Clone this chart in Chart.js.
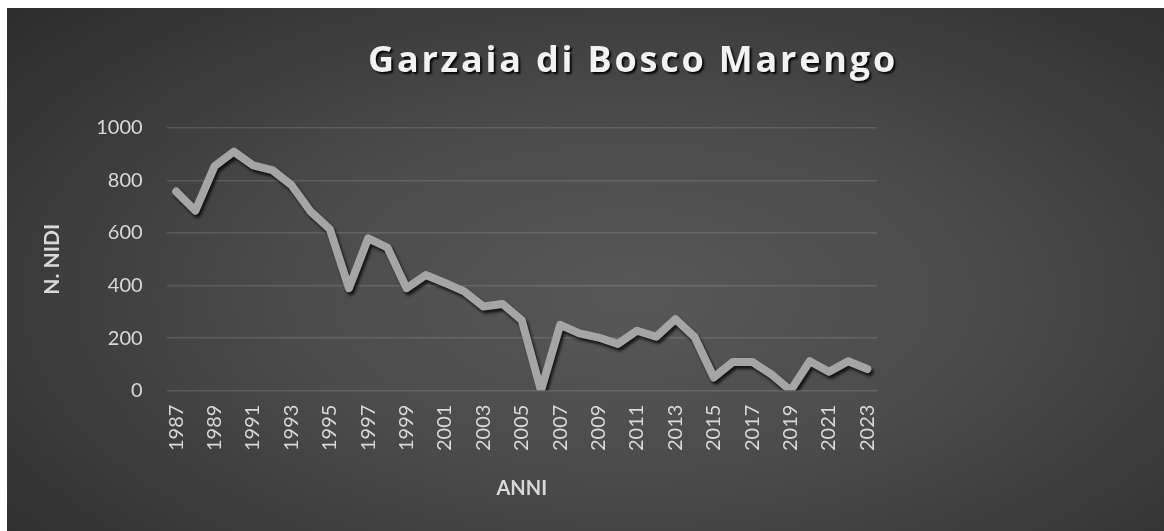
<!DOCTYPE html>
<html>
<head>
<meta charset="utf-8">
<script src="https://cdn.jsdelivr.net/npm/chart.js@4"></script>
<style>
    body { margin: 0; background: #fff; }
    #box {
        position: absolute; left: 7px; top: 8px; width: 1157px; height: 523px;
        background: radial-gradient(ellipse 75% 85% at 54% 55%, #585858 0%, #4b4b4b 40%, #2b2b2b 100%);
    }
</style>
</head>
<body>
<div id="box"><canvas id="grafico"></canvas></div>
<script>
const anni = [];
for (let a = 1987; a <= 2023; a++) anni.push(String(a));

const nidi = [
    758, 685, 855, 910, 858, 840, 783, 682, 615, 390,
    580, 545, 390, 440, 410, 378, 320, 330, 268, 0,
    250, 218, 202, 178, 228, 205, 272, 204, 50, 109,
    109, 62, 0, 112, 72, 112, 82
];

const titolo = "Garzaia di Bosco Marengo";
const tickY = [0, 200, 400, 600, 800, 1000];

// ombra sotto la linea
const ombraLinea = {
    id: "ombraLinea",
    beforeDatasetsDraw(chart) {
        const ctx = chart.ctx;
        ctx.save();
        ctx.shadowColor = "rgba(0,0,0,0.75)";
        ctx.shadowBlur = 3;
        ctx.shadowOffsetX = 2;
        ctx.shadowOffsetY = 3;
    },
    afterDatasetsDraw(chart) {
        chart.ctx.restore();
    }
};

// titolo disegnato a mano per poterlo spostare come nell'originale
const titoloGrafico = {
    id: "titoloGrafico",
    afterDraw(chart) {
        const ctx = chart.ctx;
        ctx.save();
        ctx.font = "bold 36px 'Open Sans'";
        ctx.letterSpacing = "2.8px";
        ctx.textAlign = "center";
        ctx.textBaseline = "middle";
        ctx.shadowColor = "rgba(0,0,0,0.9)";
        ctx.shadowBlur = 2;
        ctx.shadowOffsetX = 2;
        ctx.shadowOffsetY = 2;
        ctx.fillStyle = "#f2f2f2";
        ctx.fillText(titolo, 626, 54);
        ctx.restore();
    }
};

new Chart(document.getElementById("grafico"), {
    type: "line",
    data: {
        labels: anni,
        datasets: [{
            label: "N. NIDI",
            data: nidi,
            borderColor: "#a5a5a5",
            borderWidth: 8,
            borderJoinStyle: "round",
            borderCapStyle: "round",
            pointRadius: 0,
            tension: 0
        }]
    },
    options: {
        responsive: true,
        maintainAspectRatio: false,
        animation: false,
        layout: { padding: { left: 33, right: 287, top: 120, bottom: 30 } },
        plugins: {
            legend: { display: false },
            tooltip: { enabled: false }
        },
        scales: {
            x: {
                offset: true,
                grid: { display: false, drawTicks: false },
                border: { display: false },
                ticks: {
                    autoSkip: false,
                    maxRotation: 90,
                    minRotation: 90,
                    padding: 14,
                    color: "#d9d9d9",
                    font: { family: "Lato", size: 20 },
                    callback: (v, i) => (i % 2 === 0 ? anni[i] : "")
                },
                title: {
                    display: true,
                    text: "ANNI",
                    color: "#d9d9d9",
                    font: { family: "Lato", size: 20, weight: "bold" },
                    padding: { top: 12, bottom: 0 }
                }
            },
            y: {
                min: 0,
                max: 1000,
                afterBuildTicks: (ax) => { ax.ticks = tickY.map(v => ({ value: v })); },
                grid: { color: "rgba(255,255,255,0.13)", lineWidth: 1.5, drawTicks: false },
                border: { display: false },
                ticks: {
                    padding: 24,
                    color: "#d9d9d9",
                    font: { family: "Lato", size: 20 },
                    callback: (v) => String(v)
                },
                title: {
                    display: true,
                    text: "N. NIDI",
                    color: "#d9d9d9",
                    font: { family: "Lato", size: 21, weight: "bold" },
                    padding: { top: 0, bottom: 7 }
                }
            }
        }
    },
    plugins: [ombraLinea, titoloGrafico]
});
</script>
</body>
</html>
